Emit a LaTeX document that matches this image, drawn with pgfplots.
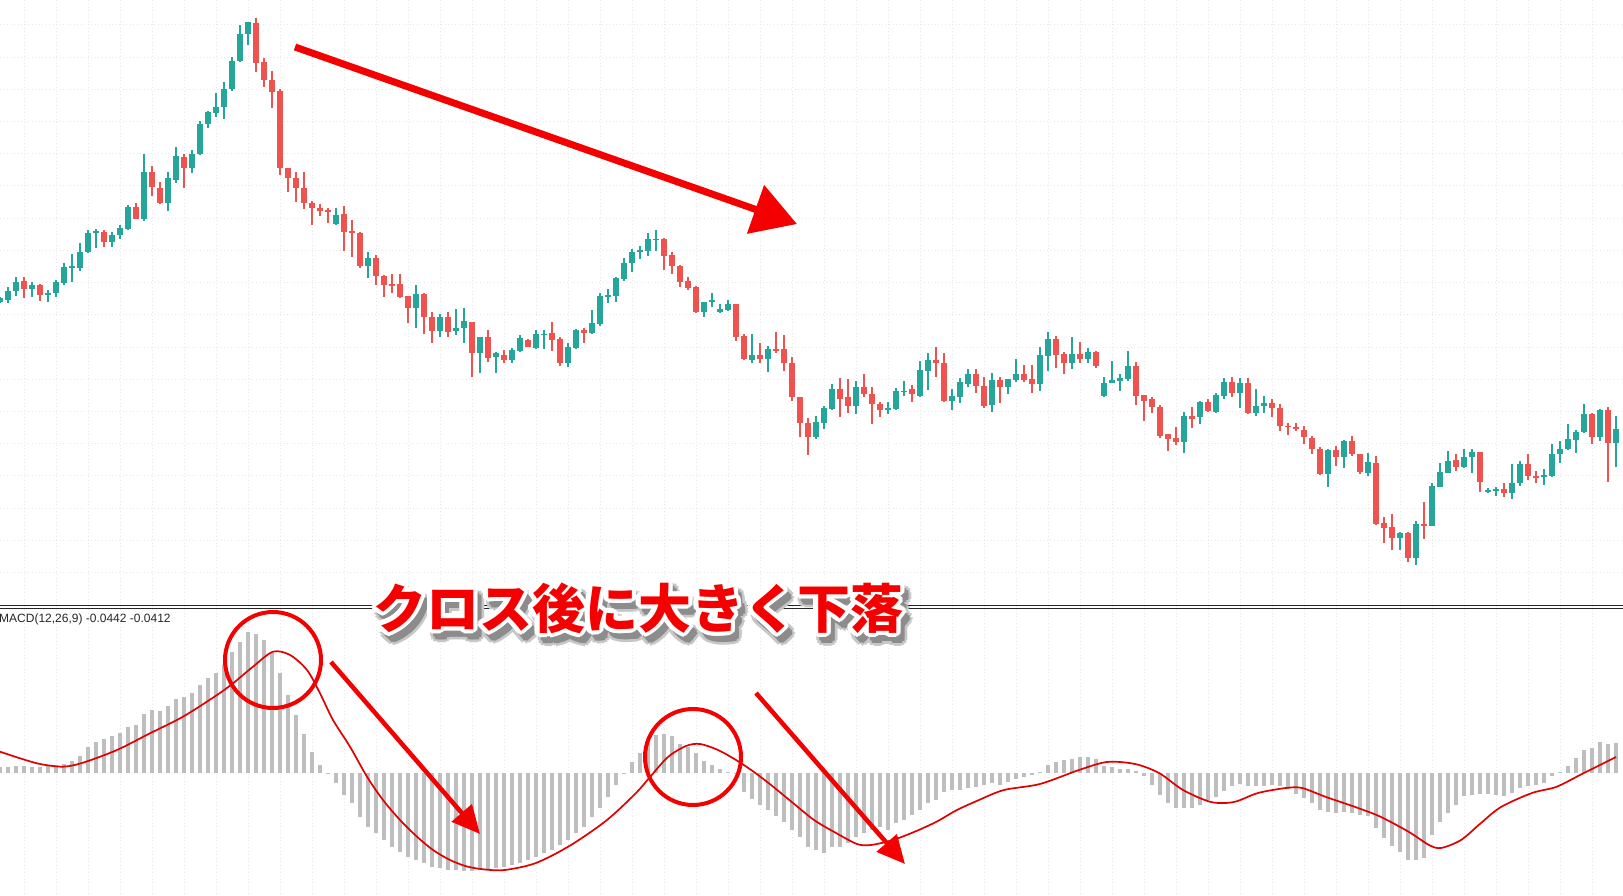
\documentclass[border=0pt]{standalone}
\usepackage{pgfplots}
\pgfplotsset{compat=1.18}
\usepackage{pgfplotstable}
\usepackage{fontspec}
\setmainfont{Liberation Sans}
\newfontfamily\jpfont{Noto Sans CJK JP}
\usetikzlibrary{arrows.meta}

\definecolor{upc}{HTML}{26A69A}
\definecolor{dnc}{HTML}{EF5350}
\definecolor{histc}{HTML}{BEBEBE}
\definecolor{sigc}{HTML}{E00000}
\definecolor{annc}{HTML}{F50000}
\definecolor{gridc}{HTML}{E8E8E8}

% pixel frame of the screenshot: 1 unit = 1 px
\pgfplotsset{
  pix/.style={at={(0,0)}, anchor=south west, width=1623pt, height=896pt,
    scale only axis, hide axis, xmin=0, xmax=1623},
  wick/.style={draw=none, forget plot, error bars/.cd, y dir=plus, y explicit,
    error mark=none, error bar style={draw=#1, solid, line width=1.3pt}},
  body/.style={draw=none, forget plot, error bars/.cd, y dir=plus, y explicit,
    error mark=none, error bar style={draw=#1, solid, line width=6pt}},
}

% candles, pixel rows: body top, body bottom, high, low
\pgfplotstableread{
x t b h l
0 298 302 297 303
8 291 300 287 303
16 282 291 277 296
32 285 289 282 297
48 293 294.5 290 302
56 282 293 280 297
64 267 283 263 285
72 266.5 268 254 282
80 252 268 243 271
88 233 252 230 253
96 231.5 233 229 248
112 235 242 232 247
120 228 235 225 239
128 207 229 205 230
144 172 219 154 221
168 178 203 172 211
176 156 180 147 183
192 154 168 150 173
200 124 154 121 155
208 112 124 111 128
216 107 113 93 117
224 89 107 82 119
232 61 89 57 91
240 34 61 25 62
248 22 34 22 45
336 215 224 208 225
368 258 266 252 278
416 294 308 285 328
440 317 331 314 337
456 328 331 309 335
464 321 328 308 343
480 337 353 337 373
496 353 357 352 373
512 350 360 348 363
520 338 351 335 352
536 334 348 330 349
544 333.5 335 330 349
568 347 363 343 367
576 330 348 329 349
592 323 333 310 334
600 296 324 293 326
608 295 296.5 289 303
616 278 296 277 302
624 263 279 258 281
632 252 263 249 272
640 250 252 246 259
648 239 251 233 256
656 239 240.5 230 251
704 302 312 302 317
712 300 302 293 307
720 309 312 304 313
728 304 310 300 311
752 355 360 334 363
768 349 359 346 372
816 422 437 416 439
824 408 423 406 429
832 389 409 384 410
856 387 406 381 414
888 408 410 402 414
896 391 409 388 410
904 390.5 392 381 396
920 370 396 361 397
928 360 371 353 390
952 396 401 389 410
960 382 397 378 403
968 374 384 369 387
992 380 405 373 412
1008 379 387 379 394
1016 374 380 359 382
1040 355 384 347 391
1048 339 356 332 371
1072 354 363 337 369
1088 352 359 348 363
1104 383 396 377 397
1112 380 383 361 383
1120 378 381 374 391
1128 366 379 351 381
1184 416 442 412 453
1200 402 417 401 424
1216 395 412 393 413
1224 382 396 378 399
1240 383 393 378 408
1256 406 413 389 416
1264 403 406 396 413
1328 450 474 449 487
1344 441 457 440 468
1368 462 473 453 476
1400 533 538 532 550
1416 524 558 521 565
1432 486 526 483 526
1440 472 487 463 487
1448 461 473 451 473
1464 457 467 449 468
1472 452 457 449 473
1488 490 492 488 493
1496 489 490.5 487 496
1512 483 493 464 499
1520 464 483 461 486
1544 475 477 469 485
1552 454 476 444 477
1560 449 454 441 463
1568 439 449 424 450
1576 432 440 430 453
1584 414 432 404 433
1600 410 437 409 441
1616 429 443 416 467
}\upcandles

\pgfplotstableread{
x t b h l
24 281 289 277 298
40 285 295 284 301
104 232 242 230 247
136 207 219 203 219.5
152 172 187 166 196
160 188 203 182 204
184 157 168 154 188
256 23 63 18 72
264 62 80 58 87
272 80 92 71 108
280 91 168 89 175
288 168 178 168 192
296 178 188 172 202
304 188 203 172 209
312 203 208 201 225
320 208 211 204 216
328 210 212 208 223
344 214 232 206 251
352 231.5 233 220 257
360 233 266 232 268
376 258 276 255 285
384 276 285 275 297
392 284 285.5 274 293
400 284 297 274 298
408 296 308 296 323
424 294 317 293 334
432 317 331 312 343
448 317 332 312 337
472 322 353 322 377
488 337 358 330 362
504 355 360 350 363
528 340 347 339 347
552 333 340 322 351
560 339 363 337 366
584 330 333 328 343
664 239 256 238 270
672 255 266 252 274
680 266 282 265 287
688 281 288 277 290
696 287 312 286 313
736 304 337 304 341
744 336 359 334 360
760 355 359 343 363
776 349 350.5 332 353
784 349 363 335 371
792 363 397 357 401
800 397 423 397 437
808 423 437 418 455
840 389 399 378 417
848 397 406 379 413
864 387 394 374 397
872 394 404 387 424
880 404 410 402 417
912 389 394 385 402
936 360 363 347 377
944 363 401 353 402
976 374 386 369 393
984 386 406 377 408
1000 380 387 377 403
1024 374 380 365 382
1032 379 384 365 393
1056 339 355 336 368
1064 354 363 352 374
1080 354 359 342 363
1096 352 366 351 368
1136 366 396 362 405
1144 395 401 395 421
1152 399 407 397 413
1160 407 436 405 438
1168 434 439 434 451
1176 438 442 427 445
1192 416 419 407 428
1208 402 411 399 412
1232 382 393 377 397
1248 383 413 378 414
1272 403 408 399 417
1280 408 426 404 431
1288 425.5 427 423 435
1296 427 429 423 431
1304 430 437 426 444
1312 438 449 436 454
1320 449 474 447 475
1336 450 457 446 466
1352 441 454 436 456
1360 454 472 454 474
1376 463 524 456 525
1384 523 528 517 543
1392 527 538 514 550
1408 533 558 532 562
1424 524 525.5 502 539
1456 460 467 454 471
1480 452 482 452 492
1504 489 493 483 497
1528 464 476 454 480
1536 476 477.5 471 483
1592 414 437 413 444
1608 410 443 407 482
}\downcandles

% MACD histogram, px above the zero line (y = 773 px)
\pgfplotstableread{
x h
0 6
8 6.3
16 7
24 7
32 6.3
40 5.7
48 7
56 7.7
64 8.7
72 12.3
80 17.3
88 26.3
96 30.7
104 33.7
112 37
120 39.7
128 45.7
136 48
144 59
152 63
160 62.3
168 67
176 74
184 76.3
192 79.7
200 88
208 94.7
216 100.3
224 108
232 121.3
240 131.3
248 141.3
256 139
264 133
272 119.7
280 99.7
288 78
296 58
304 39
312 21.3
320 8
328 -1
336 -10.3
344 -22
352 -30.3
360 -43.7
368 -53.7
376 -60.3
384 -67
392 -73.7
400 -78.7
408 -83.7
416 -87
424 -90.3
432 -93.7
440 -95.3
448 -97
456 -97.5
464 -98
472 -98
480 -97
488 -96
496 -95
504 -93.7
512 -92
520 -90.3
528 -87
536 -83.7
544 -80.3
552 -77
560 -72
568 -67
576 -60.3
584 -53.7
592 -43.7
600 -35.3
608 -23.7
616 -12
624 -1
632 11.3
640 20.3
648 31.3
656 38
664 39
672 37
680 29
688 26.3
696 19.7
704 12.3
712 8
720 3.7
728 1.3
736 -1
744 -18.7
752 -26.3
760 -32
768 -37
776 -43
784 -48.7
792 -57
800 -63.7
808 -73.7
816 -77
824 -79.7
832 -73.7
840 -73.7
848 -70.3
856 -63.7
864 -60.3
872 -57
880 -53.7
888 -57
896 -50.3
904 -47
912 -42
920 -37
928 -30.3
936 -27
944 -18.7
952 -17
960 -17
968 -15.3
976 -13.7
984 -12
992 -10.3
1000 -12
1008 -9
1016 -6
1024 -4.5
1032 -2.5
1040 1
1048 7.5
1056 11
1064 12.7
1072 14
1080 16
1088 16
1096 14
1104 6.7
1112 6
1120 4
1128 4
1136 1.7
1144 -3.3
1152 -11.7
1160 -21.7
1168 -30
1176 -35
1184 -35
1192 -35
1200 -31.7
1208 -26.7
1216 -24
1224 -18.3
1232 -13.3
1240 -10.7
1248 -12.7
1256 -12.7
1264 -12.7
1272 -11.7
1280 -13.3
1288 -15.7
1296 -20.7
1304 -25
1312 -30
1320 -37.3
1328 -39.3
1336 -40
1344 -39.3
1352 -40
1360 -41.7
1368 -42.7
1376 -55
1384 -65
1392 -73.3
1400 -79.3
1408 -86.7
1416 -86.7
1424 -85
1432 -61.7
1440 -49.3
1448 -40
1456 -31.7
1464 -22.7
1472 -21.7
1480 -20.7
1488 -20.7
1496 -21.7
1504 -22.7
1512 -20
1520 -15
1528 -13.3
1536 -11.7
1544 -10
1552 -3.3
1560 0.5
1568 7.3
1576 15
1584 23.3
1592 25
1600 30.7
1608 29.3
1616 30
}\histo

\newcommand\jt{クロス後に大きく下落}

\begin{document}
\begin{tikzpicture}
\fill[white] (0,0) rectangle (1623pt,896pt);
\path[use as bounding box] (0,0) rectangle (1623pt,896pt);

% price pane
\begin{axis}[pix, ymin=0, ymax=896, y dir=reverse]
  \pgfplotsinvokeforeach{0,...,49}{
    \draw[gridc, line width=1pt, dash pattern=on 1pt off 2.5pt]
      (axis cs:{24+32*#1},0) -- (axis cs:{24+32*#1},896);}
  \pgfplotsinvokeforeach{0,...,17}{
    \draw[gridc, line width=1pt, dash pattern=on 1pt off 2.5pt]
      (axis cs:0,{25+32.2*#1}) -- (axis cs:1623,{25+32.2*#1});}
  \addplot[wick=upc] table[x=x, y=h, y error expr=\thisrow{l}-\thisrow{h}] {\upcandles};
  \addplot[wick=dnc] table[x=x, y=h, y error expr=\thisrow{l}-\thisrow{h}] {\downcandles};
  \addplot[body=upc] table[x=x, y=t, y error expr=\thisrow{b}-\thisrow{t}] {\upcandles};
  \addplot[body=dnc] table[x=x, y=t, y error expr=\thisrow{b}-\thisrow{t}] {\downcandles};
\end{axis}

% MACD pane, zero at y = 773 px
\begin{axis}[pix, ymin=-123, ymax=773]
  \addplot[ycomb, draw=histc, line width=4.4pt] table[x=x, y=h] {\histo};
  \addplot[smooth, draw=sigc, line width=1.7pt] coordinates {
    (0,21.3) (20,14.7) (40,9) (63,6.3) (83,10.3) (117,23) (150,39.7)
    (183,56.3) (217,78) (233,89.7) (253,106.3) (273,121.3) (290,118)
    (307,103) (320,79.7) (333,53) (350,26.3) (367,-3.7) (383,-27)
    (400,-47) (417,-63.7) (433,-77) (450,-87) (467,-93.5) (485,-96.5)
    (505,-97) (536,-90) (571,-72) (607,-47) (636,-20) (650,-4) (668,16)
    (686,27) (700,29) (718,23) (736,13) (754,1) (771,-12) (793,-30)
    (814,-47) (836,-60) (857,-71) (871,-72) (893,-67) (914,-59) (936,-49)
    (957,-37) (979,-27) (1004,-17) (1040,-11) (1079,3) (1107,11) (1135,9)
    (1159,0) (1183,-17) (1211,-29) (1234,-29) (1258,-20) (1286,-15)
    (1302,-15) (1326,-24) (1358,-35) (1381,-44) (1409,-59) (1429,-72)
    (1441,-75) (1461,-67) (1481,-50) (1501,-34) (1532,-20) (1556,-14)
    (1580,-2) (1596,6) (1616,16)};
\end{axis}

% annotations, pixel frame again
\begin{axis}[pix, ymin=0, ymax=896, y dir=reverse]
  \draw[black!85, line width=1pt] (axis cs:0,605.5) -- (axis cs:1623,605.5);
  \draw[black!85, line width=1pt] (axis cs:0,608.5) -- (axis cs:1623,608.5);
  \node[anchor=west, inner sep=0pt, text=black!85, font=\fontsize{12}{14}\selectfont]
    at (axis cs:-1,619) {MACD(12,26,9) -0.0442 -0.0412};

  \draw[annc, line width=7pt, -{Triangle[length=44pt, width=50pt]}]
    (axis cs:295,47) -- (axis cs:797,224);
  \draw[annc, line width=4pt] (axis cs:273,660) circle[radius=48pt];
  \draw[annc, line width=4pt] (axis cs:693,757) circle[radius=48pt];
  \draw[annc, line width=4.5pt, -{Triangle[length=28pt, width=26pt]}]
    (axis cs:331,662) -- (axis cs:480,834);
  \draw[annc, line width=4.5pt, -{Triangle[length=28pt, width=26pt]}]
    (axis cs:756,693) -- (axis cs:905,864);

  % caption: soft shadow, white outline, red fill
  \pgfplotsinvokeforeach{0,30,...,330}{
    \node[anchor=base west, inner sep=0pt, text=black!22,
      font=\jpfont\bfseries\fontsize{53}{60}\selectfont]
      at ([shift={({(5+6.5*cos(#1))*1pt},{(-7+6.5*sin(#1))*1pt})}]axis cs:373,628) {\jt};}
  \pgfplotsinvokeforeach{0,30,...,330}{
    \node[anchor=base west, inner sep=0pt, text=black!45,
      font=\jpfont\bfseries\fontsize{53}{60}\selectfont]
      at ([shift={({(5+3.5*cos(#1))*1pt},{(-7+3.5*sin(#1))*1pt})}]axis cs:373,628) {\jt};}
  \pgfplotsinvokeforeach{0,20,...,340}{
    \node[anchor=base west, inner sep=0pt, text=white,
      font=\jpfont\bfseries\fontsize{53}{60}\selectfont]
      at ([shift={({4.5*cos(#1)*1pt},{4.5*sin(#1)*1pt})}]axis cs:373,628) {\jt};}
  \node[anchor=base west, inner sep=0pt, text=annc,
    font=\jpfont\bfseries\fontsize{53}{60}\selectfont]
    at (axis cs:373,628) {\jt};
\end{axis}
\end{tikzpicture}
\end{document}
